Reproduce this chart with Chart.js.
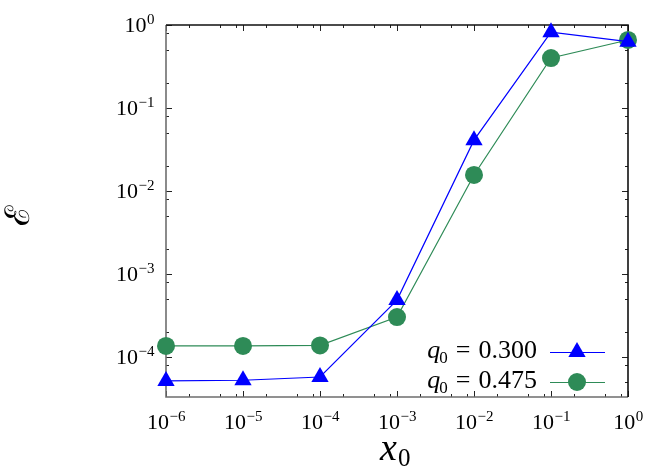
<!DOCTYPE html>
<html>
<head>
<meta charset="utf-8">
<script src="https://cdn.jsdelivr.net/npm/chart.js@4/dist/chart.umd.min.js"></script>
<style>
html,body{margin:0;padding:0;background:#fff;}
#wrap{width:664px;height:466px;}
</style>
</head>
<body>
<div id="wrap"><canvas id="c" width="664" height="466"></canvas></div>
<script>
// ---- data ----
const xValues = [1e-6, 1e-5, 1e-4, 1e-3, 1e-2, 1e-1, 1];
const seriesA = [5.15e-5, 5.25e-5, 5.75e-5, 4.85e-4, 0.041, 0.82, 0.63];   // q0 = 0.300
const seriesB = [1.36e-4, 1.36e-4, 1.38e-4, 3.03e-4, 0.0156, 0.40, 0.66];  // q0 = 0.475
const seriesLabels = ['0.300', '0.475'];
const xTickExps = [-6, -5, -4, -3, -2, -1, 0];
const yTickExps = [-4, -3, -2, -1, 0];
const minorMults = [2, 5, 8];

const colA = '#0000ff';
const colB = '#2e8b57';
const SERIF = '"Liberation Serif", "DejaVu Serif", serif';

function toPts(ys){ return xValues.map((x,i)=>({x:x, y:ys[i]})); }

function drawPow(ctx, exp, x, y, mode){
  const base = '10';
  const e = exp < 0 ? '\u2212' + Math.abs(exp) : String(exp);
  ctx.font = '22px ' + SERIF;
  const wb = ctx.measureText(base).width;
  ctx.font = '15px ' + SERIF;
  const we = ctx.measureText(e).width;
  let left;
  if (mode === 'center') left = x - (wb + we)/2;
  else left = x - (wb + we);
  ctx.textAlign = 'left';
  ctx.textBaseline = 'alphabetic';
  ctx.font = '22px ' + SERIF;
  ctx.fillText(base, left, y);
  ctx.font = '15px ' + SERIF;
  ctx.fillText(e, left + wb + 0.5, y - 8);
}

function drawMarker(ctx, style, x, y, r, color){
  ctx.fillStyle = color;
  ctx.beginPath();
  if (style === 'triangle') {
    ctx.moveTo(x, y - r);
    ctx.lineTo(x + r*Math.sin(2*Math.PI/3), y - r*Math.cos(2*Math.PI/3));
    ctx.lineTo(x + r*Math.sin(4*Math.PI/3), y - r*Math.cos(4*Math.PI/3));
    ctx.closePath();
  } else {
    ctx.arc(x, y, r, 0, Math.PI*2);
  }
  ctx.fill();
}

const framePlugin = {
  id: 'frame',
  beforeDatasetsDraw(chart){
    const ctx = chart.ctx, a = chart.chartArea;
    const xs = chart.scales.x, ys = chart.scales.y;
    ctx.save();
    ctx.strokeStyle = '#222';
    ctx.lineWidth = 1;
    const xMin = xs.min, xMax = xs.max, yMin = ys.min, yMax = ys.max;
    function xt(v, len){
      const p = Math.round(xs.getPixelForValue(v)) + 0.5;
      ctx.beginPath();
      ctx.moveTo(p, a.bottom); ctx.lineTo(p, a.bottom - len);
      ctx.moveTo(p, a.top); ctx.lineTo(p, a.top + len);
      ctx.stroke();
    }
    function yt(v, len){
      const p = Math.round(ys.getPixelForValue(v)) + 0.5;
      ctx.beginPath();
      ctx.moveTo(a.left, p); ctx.lineTo(a.left + len, p);
      ctx.moveTo(a.right, p); ctx.lineTo(a.right - len, p);
      ctx.stroke();
    }
    for (let d = -7; d <= 0; d++) {
      minorMults.forEach(m => {
        const v = m * Math.pow(10, d);
        if (v > xMin*1.0001 && v < xMax*0.9999) xt(v, 3);
        if (v > yMin*1.0001 && v < yMax*0.9999) yt(v, 3);
      });
    }
    xTickExps.forEach(e => xt(Math.pow(10, e), 6));
    yTickExps.forEach(e => yt(Math.pow(10, e), 6));
    ctx.lineWidth = 1.6;
    ctx.strokeStyle = '#6e6e6e';
    ctx.beginPath();
    ctx.moveTo(a.left, a.top); ctx.lineTo(a.left, a.bottom); ctx.lineTo(a.right, a.bottom);
    ctx.stroke();
    ctx.strokeStyle = '#111';
    ctx.beginPath();
    ctx.moveTo(a.left, a.top); ctx.lineTo(a.right, a.top); ctx.lineTo(a.right, a.bottom);
    ctx.stroke();
    ctx.restore();
  },
  afterDraw(chart){
    const ctx = chart.ctx, a = chart.chartArea;
    const xs = chart.scales.x, ys = chart.scales.y;
    ctx.save();
    ctx.fillStyle = '#000';
    xTickExps.forEach(e => drawPow(ctx, e, xs.getPixelForValue(Math.pow(10,e)), a.bottom + 32, 'center'));
    yTickExps.forEach(e => drawPow(ctx, e, a.left - 12, ys.getPixelForValue(Math.pow(10,e)) + 7, 'right'));

    // x axis title
    ctx.fillStyle = '#000';
    ctx.textBaseline = 'alphabetic';
    ctx.textAlign = 'left';
    ctx.font = 'italic 38px ' + SERIF;
    ctx.fillText('x', 380, 460);
    ctx.font = '25px ' + SERIF;
    ctx.fillText('0', 398, 466);

    // y axis title
    ctx.save();
    ctx.translate(20, 215);
    ctx.rotate(-Math.PI/2);
    ctx.textAlign = 'center';
    ctx.textBaseline = 'middle';
    ctx.font = '34px "DejaVu Serif", serif';
    ctx.fillText('\u2130', 0, 0);
    ctx.restore();

    // legend
    const rows = [
      {label: seriesLabels[0], color: colA, style: 'triangle', r: 10, y: 352},
      {label: seriesLabels[1], color: colB, style: 'circle', r: 9, y: 382}
    ];
    rows.forEach(row => {
      const eq = '=';
      const num = row.label;
      ctx.font = '26px ' + SERIF;
      const wn = ctx.measureText(num).width;
      const we = ctx.measureText(eq).width;
      ctx.font = '17px ' + SERIF;
      const ws = ctx.measureText('0').width;
      ctx.font = 'italic 26px ' + SERIF;
      const wq = ctx.measureText('q').width;
      const gap = 8;
      const right = 537;
      const numX = right - wn;
      const eqX = numX - gap - we;
      const subX = eqX - gap - ws;
      const qX = subX - wq + 1;
      ctx.fillStyle = '#000';
      ctx.textAlign = 'left';
      ctx.textBaseline = 'alphabetic';
      ctx.font = 'italic 26px ' + SERIF;
      ctx.fillText('q', qX, row.y + 6);
      ctx.font = '17px ' + SERIF;
      ctx.fillText('0', subX, row.y + 11);
      ctx.font = '26px ' + SERIF;
      ctx.fillText(eq, eqX, row.y + 6);
      ctx.fillText(num, numX, row.y + 6);
      ctx.strokeStyle = row.color;
      ctx.lineWidth = 1.2;
      ctx.beginPath();
      ctx.moveTo(550, row.y + 0.5); ctx.lineTo(605, row.y + 0.5);
      ctx.stroke();
      drawMarker(ctx, row.style, 577, row.y, row.r, row.color);
    });
    ctx.restore();
  }
};

new Chart(document.getElementById('c'), {
  type: 'line',
  data: {
    datasets: [
      {
        label: 'q0 = ' + seriesLabels[0],
        data: toPts(seriesA),
        borderColor: colA, backgroundColor: colA,
        borderWidth: 1.2,
        pointStyle: 'triangle', pointRadius: 10, pointHoverRadius: 10,
        pointBorderWidth: 0,
        tension: 0, clip: false
      },
      {
        label: 'q0 = ' + seriesLabels[1],
        data: toPts(seriesB),
        borderColor: colB, backgroundColor: colB,
        borderWidth: 1.2,
        pointStyle: 'circle', pointRadius: 9, pointHoverRadius: 9,
        pointBorderWidth: 0,
        tension: 0, clip: false
      }
    ]
  },
  options: {
    responsive: false,
    animation: false,
    events: [],
    layout: { padding: { top: 25, right: 36, left: 0, bottom: 0 } },
    plugins: { legend: { display: false }, tooltip: { enabled: false } },
    scales: {
      x: {
        type: 'logarithmic', min: 1e-6, max: 1,
        ticks: { display: false },
        grid: { display: false, drawTicks: false },
        border: { display: false },
        afterFit(s){ s.height = 69; }
      },
      y: {
        type: 'logarithmic', min: 3.3e-5, max: 1,
        ticks: { display: false },
        grid: { display: false, drawTicks: false },
        border: { display: false },
        afterFit(s){ s.width = 166; }
      }
    }
  },
  plugins: [framePlugin]
});
</script>
</body>
</html>
